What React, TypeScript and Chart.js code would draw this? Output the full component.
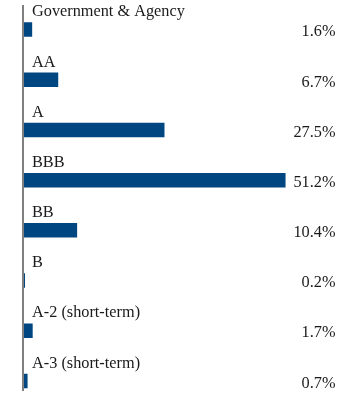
import React, { useEffect, useRef } from "react";
import { Chart, registerables } from "chart.js";

Chart.register(...registerables);

const categories = [
  "Government & Agency",
  "AA",
  "A",
  "BBB",
  "BB",
  "B",
  "A-2 (short-term)",
  "A-3 (short-term)",
];
const values = [1.6, 6.7, 27.5, 51.2, 10.4, 0.2, 1.7, 0.7];
const valueLabels = ["1.6%", "6.7%", "27.5%", "51.2%", "10.4%", "0.2%", "1.7%", "0.7%"];

const FONT = '16.3px "Liberation Serif", "Times New Roman", serif';

const labelPlugin = {
  id: "sideLabels",
  afterDatasetsDraw(chart: any) {
    const ctx = chart.ctx;
    const area = chart.chartArea;
    const meta = chart.getDatasetMeta(0);
    ctx.save();
    ctx.font = FONT;
    ctx.fillStyle = "#1a1a1a";
    meta.data.forEach((bar: any, i: number) => {
      const { y, height } = bar.getProps(["y", "height"], true);
      ctx.textAlign = "left";
      ctx.textBaseline = "alphabetic";
      ctx.fillText(categories[i], area.left + 8, y - height / 2 - 6);
      ctx.textAlign = "right";
      ctx.textBaseline = "middle";
      ctx.fillText(valueLabels[i], area.right + 5, y + 2.5);
    });
    ctx.strokeStyle = "#555555";
    ctx.lineWidth = 1.5;
    ctx.beginPath();
    ctx.moveTo(area.left - 1, 5);
    ctx.lineTo(area.left - 1, 391);
    ctx.stroke();
    ctx.restore();
  },
};

export default function App() {
  const ref = useRef<HTMLCanvasElement>(null);
  useEffect(() => {
    if (!ref.current) return;
    const chart = new Chart(ref.current, {
      type: "bar",
      data: {
        labels: categories,
        datasets: [
          {
            data: values,
            backgroundColor: "#004680",
            borderWidth: 0,
            barPercentage: 0.29,
            categoryPercentage: 1,
          },
        ],
      },
      options: {
        indexAxis: "y",
        animation: false,
        responsive: false,
        layout: { padding: { left: 24, right: 29.5, top: 4.5, bottom: 0 } },
        scales: {
          x: { display: false, min: 0, max: 60 },
          y: { display: false },
        },
        plugins: { legend: { display: false }, tooltip: { enabled: false } },
      },
      plugins: [labelPlugin],
    });
    return () => chart.destroy();
  }, []);
  return (
    <div
      style={{
        position: "absolute",
        left: 0,
        top: 0,
        width: 360,
        height: 396,
        overflow: "hidden",
      }}
    >
      <canvas ref={ref} width={360} height={406} style={{ display: "block" }} />
    </div>
  );
}
